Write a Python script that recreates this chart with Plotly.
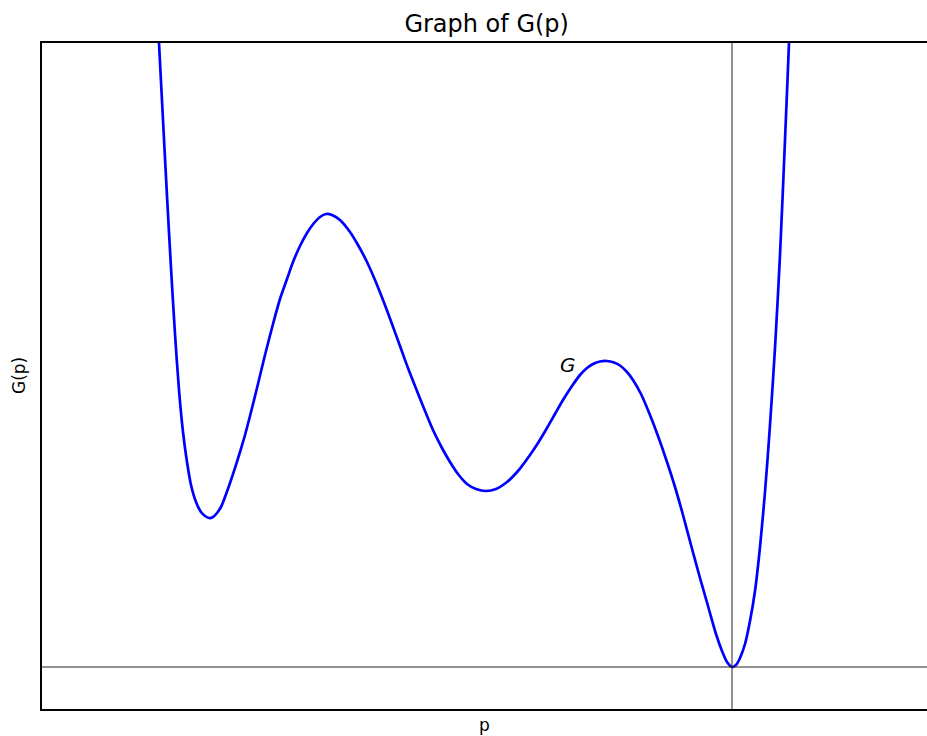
import plotly.graph_objects as go

# Curve samples of G(p)
p_vals = [-5.78, -5.73, -5.69, -5.65, -5.61, -5.57, -5.53, -5.49, -5.45, -5.41,
          -5.36, -5.31, -5.27, -5.23, -5.19, -5.15, -5.11, -5.07, -5.02, -4.97,
          -4.92, -4.87, -4.82, -4.75, -4.67, -4.59, -4.52, -4.45, -4.39, -4.32,
          -4.25, -4.18, -4.12, -4.06, -4.00, -3.92, -3.82, -3.74, -3.65, -3.57,
          -3.49, -3.40, -3.32, -3.24, -3.15, -3.07, -2.99, -2.90, -2.82, -2.74,
          -2.65, -2.56, -2.46, -2.36, -2.25, -2.14, -2.02, -1.94, -1.85, -1.77,
          -1.69, -1.60, -1.52, -1.45, -1.39, -1.32, -1.25, -1.18, -1.12, -1.05,
          -0.99, -0.91, -0.82, -0.74, -0.65, -0.57, -0.49, -0.41, -0.32, -0.24,
          -0.16, -0.10, -0.05, 0.00, 0.04, 0.08, 0.13, 0.18, 0.23, 0.28,
          0.33, 0.38, 0.43, 0.48, 0.53, 0.57, 0.61]
g_vals = [7.22, 6.24, 5.47, 4.71, 3.99, 3.33, 2.77, 2.35, 2.05, 1.82,
          1.65, 1.55, 1.51, 1.49, 1.50, 1.54, 1.60, 1.70, 1.84, 1.99,
          2.15, 2.32, 2.51, 2.79, 3.12, 3.43, 3.68, 3.88, 4.05, 4.21,
          4.34, 4.44, 4.50, 4.53, 4.52, 4.47, 4.35, 4.22, 4.05, 3.87,
          3.67, 3.43, 3.21, 2.99, 2.76, 2.56, 2.37, 2.19, 2.05, 1.93,
          1.83, 1.78, 1.76, 1.78, 1.85, 1.96, 2.12, 2.24, 2.39, 2.53,
          2.67, 2.81, 2.92, 2.99, 3.03, 3.055, 3.06, 3.045, 3.015, 2.95,
          2.87, 2.73, 2.52, 2.31, 2.05, 1.80, 1.52, 1.22, 0.89, 0.61,
          0.33, 0.16, 0.05, 0.00, 0.02, 0.09, 0.23, 0.46, 0.76, 1.20,
          1.75, 2.42, 3.19, 4.12, 5.27, 6.24, 7.27]

# Reference lines (through the global minimum)
hline_g = 0.0
vline_p = 0.0

# Curve label
label_text = "G"
label_p = -1.64
label_g = 3.02

title_text = "Graph of G(p)"
xlabel = "p"
ylabel = "G(p)"

x_range = [-6.90, 1.95]
y_range = [-0.42, 6.24]

FONT = "DejaVu Sans"

fig = go.Figure()
fig.add_trace(go.Scatter(
    x=p_vals, y=g_vals, mode="lines",
    line=dict(color="#0000ff", width=2.7, shape="spline", smoothing=0.8),
    showlegend=False, hoverinfo="skip",
))

fig.add_shape(type="line", xref="paper", x0=0, x1=1, yref="y", y0=hline_g, y1=hline_g,
              line=dict(color="#222222", width=1))
fig.add_shape(type="line", xref="x", x0=vline_p, x1=vline_p, yref="paper", y0=0, y1=1,
              line=dict(color="#222222", width=1))

fig.add_annotation(x=label_p, y=label_g, xref="x", yref="y", text="<i>" + label_text + "</i>",
                   showarrow=False, xanchor="center", yanchor="middle",
                   font=dict(family=FONT, size=20, color="#000000"))

fig.add_annotation(x=0.5, y=0, xref="paper", yref="paper", text=xlabel, showarrow=False,
                   xanchor="center", yanchor="top", yshift=-4,
                   font=dict(family=FONT, size=17, color="#000000"))
fig.add_annotation(x=0, y=0.5, xref="paper", yref="paper", text=ylabel, showarrow=False,
                   xanchor="center", yanchor="middle", xshift=-23, textangle=-90,
                   font=dict(family=FONT, size=17, color="#000000"))

fig.update_layout(
    width=927, height=736,
    margin=dict(l=42, r=0, t=43, b=27),
    paper_bgcolor="white", plot_bgcolor="white",
    title=dict(text=title_text, x=0.525, xanchor="center", y=1 - 24 / 736, yanchor="middle",
               yref="container", font=dict(family=FONT, size=24, color="#000000")),
    font=dict(family=FONT),
)
fig.update_xaxes(range=x_range, showgrid=False, zeroline=False, showticklabels=False,
                 ticks="", showline=True, mirror=True, linecolor="#000000", linewidth=1.5)
fig.update_yaxes(range=y_range, showgrid=False, zeroline=False, showticklabels=False,
                 ticks="", showline=True, mirror=False, linecolor="#000000", linewidth=1.5)

fig.write_html(
    "out.html",
    config={"displayModeBar": False},
    post_script="document.body.style.margin='0';document.body.style.overflow='hidden';",
)
